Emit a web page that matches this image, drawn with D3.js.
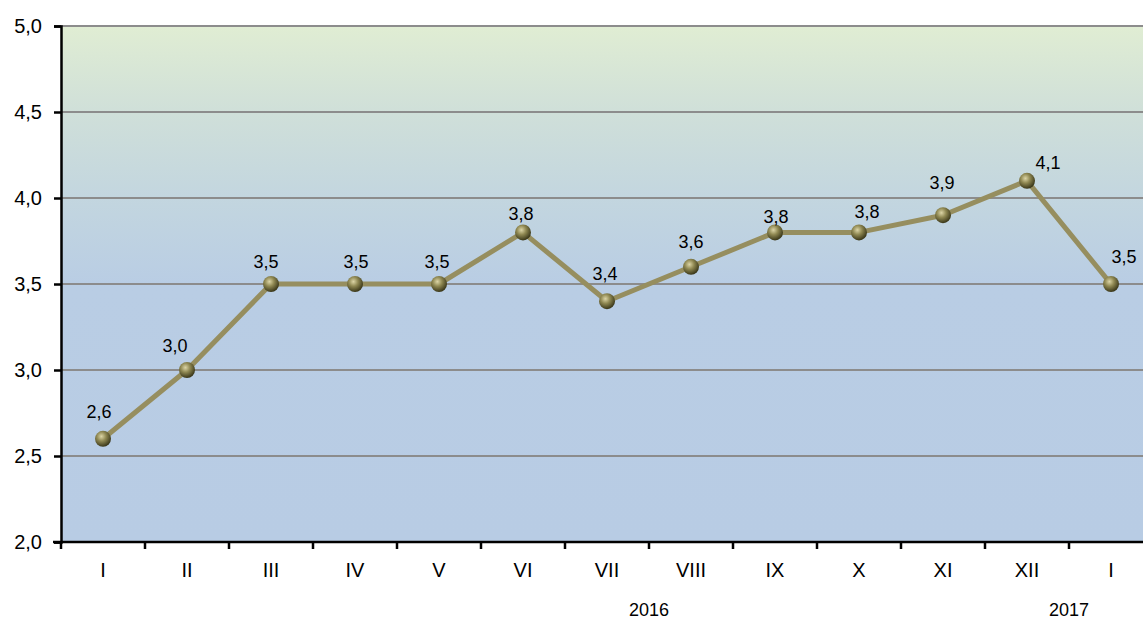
<!DOCTYPE html>
<html>
<head>
<meta charset="utf-8">
<script src="https://cdn.jsdelivr.net/npm/d3@7"></script>
<style>
  html, body { margin: 0; padding: 0; background: #fff; overflow: hidden; }
  svg { display: block; font-family: "Liberation Sans", Arial, sans-serif; }
</style>
</head>
<body>
<div id="chart"></div>
<script>
// data
var months = ['I', 'II', 'III', 'IV', 'V', 'VI', 'VII', 'VIII', 'IX', 'X', 'XI', 'XII', 'I'];
var monthKeys = months.map(function(m, i) { return i + ':' + m; });
var values = [2.6, 3.0, 3.5, 3.5, 3.5, 3.8, 3.4, 3.6, 3.8, 3.8, 3.9, 4.1, 3.5];
var valueLabels = ['2,6', '3,0', '3,5', '3,5', '3,5', '3,8', '3,4', '3,6', '3,8', '3,8', '3,9', '4,1', '3,5'];
var yTicks = [2.0, 2.5, 3.0, 3.5, 4.0, 4.5, 5.0];
var years = [{ label: '2016', from: 6, to: 7 }, { label: '2017', from: 12, to: 12 }];

// hand nudges of the data labels (like the ones dragged around in the original)
var labelNudge = [[-4, -27], [-12, -24], [-5, -22], [1, -22], [-2, -22], [-2, -19], [-2, -28],
                  [0, -25], [1, -16], [8, -21], [-1, -33], [21, -18], [13, -27]];

var width = 1143, height = 619;
var margin = { left: 61, top: 26, bottom: 77 };
var plotW = 84 * months.length; // right side is cut off by the frame, like the original

var svg = d3.select('#chart').append('svg')
  .attr('width', width)
  .attr('height', height);

var x = d3.scaleBand()
  .domain(monthKeys)
  .range([margin.left, margin.left + plotW]);

var y = d3.scaleLinear()
  .domain([2, 5])
  .range([height - margin.bottom, margin.top]);

var defs = svg.append('defs');

// background: green at the top fading to blue at 3,5
var bg = defs.append('linearGradient')
  .attr('id', 'bg')
  .attr('gradientUnits', 'userSpaceOnUse')
  .attr('x1', 0).attr('x2', 0)
  .attr('y1', y(5)).attr('y2', y(2));
bg.append('stop').attr('offset', 0).attr('stop-color', '#e0edd3');
bg.append('stop').attr('offset', 0.17).attr('stop-color', '#cfdfd9');
bg.append('stop').attr('offset', 0.33).attr('stop-color', '#c3d6df');
bg.append('stop').attr('offset', 0.5).attr('stop-color', '#b9cde4');
bg.append('stop').attr('offset', 1).attr('stop-color', '#b8cce4');

// marker ball
var ball = defs.append('radialGradient')
  .attr('id', 'ball')
  .attr('cx', '40%').attr('cy', '35%').attr('r', '65%');
ball.append('stop').attr('offset', 0).attr('stop-color', '#dcd5a6');
ball.append('stop').attr('offset', 0.45).attr('stop-color', '#8f8852');
ball.append('stop').attr('offset', 1).attr('stop-color', '#3a3719');

svg.append('rect')
  .attr('x', margin.left)
  .attr('y', y(5))
  .attr('width', plotW)
  .attr('height', y(2) - y(5))
  .attr('fill', 'url(#bg)');

// gridlines
svg.append('g')
  .selectAll('line')
  .data(yTicks.filter(function(d) { return d > 2; }))
  .join('line')
  .attr('x1', margin.left)
  .attr('x2', margin.left + plotW)
  .attr('y1', function(d) { return y(d); })
  .attr('y2', function(d) { return y(d); })
  .attr('stroke', '#8c8c8c')
  .attr('stroke-width', 2);

// y axis
var yAxis = svg.append('g')
  .attr('transform', 'translate(' + margin.left + ',0)')
  .call(d3.axisLeft(y)
    .tickValues(yTicks)
    .tickSize(7)
    .tickPadding(12)
    .tickFormat(function(d) { return d3.format('.1f')(d).replace('.', ','); }));
yAxis.attr('font-family', null).attr('font-size', null);
yAxis.select('.domain').attr('stroke', '#000').attr('stroke-width', 2.5);
yAxis.selectAll('.tick line').attr('stroke', '#000').attr('stroke-width', 2.5);
yAxis.selectAll('text').attr('fill', '#000').style('font-size', '20px');

// x axis, ticks sit on the category boundaries
var xAxis = svg.append('g')
  .attr('transform', 'translate(0,' + y(2) + ')');
xAxis.append('line')
  .attr('x1', margin.left - 8)
  .attr('x2', margin.left + plotW)
  .attr('stroke', '#000')
  .attr('stroke-width', 2.5);
xAxis.selectAll('line.tk')
  .data(d3.range(months.length + 1))
  .join('line')
  .attr('class', 'tk')
  .attr('x1', function(i) { return margin.left + i * x.step(); })
  .attr('x2', function(i) { return margin.left + i * x.step(); })
  .attr('y1', 0)
  .attr('y2', 7)
  .attr('stroke', '#000')
  .attr('stroke-width', 2.5);
xAxis.selectAll('text.mo')
  .data(monthKeys)
  .join('text')
  .attr('class', 'mo')
  .attr('x', function(d) { return x(d) + x.bandwidth() / 2; })
  .attr('y', 35)
  .attr('text-anchor', 'middle')
  .style('font-size', '20px')
  .text(function(d) { return d.split(':')[1]; });

// year labels under the months
svg.selectAll('text.year')
  .data(years)
  .join('text')
  .attr('class', 'year')
  .attr('x', function(d) {
    return d.from === d.to ? x(monthKeys[d.from])
      : (x(monthKeys[d.from]) + x(monthKeys[d.to]) + x.bandwidth()) / 2;
  })
  .attr('y', 616)
  .attr('text-anchor', 'middle')
  .style('font-size', '18px')
  .text(function(d) { return d.label; });

// the line
var line = d3.line()
  .x(function(d, i) { return x(monthKeys[i]) + x.bandwidth() / 2; })
  .y(function(d) { return y(d); });

svg.append('path')
  .datum(values)
  .attr('d', line)
  .attr('fill', 'none')
  .attr('stroke', '#968e5f')
  .attr('stroke-width', 5)
  .attr('stroke-linejoin', 'round');

svg.append('g')
  .selectAll('circle')
  .data(values)
  .join('circle')
  .attr('cx', function(d, i) { return x(monthKeys[i]) + x.bandwidth() / 2; })
  .attr('cy', function(d) { return y(d); })
  .attr('r', 8)
  .attr('fill', 'url(#ball)');

// data labels
svg.append('g')
  .selectAll('text')
  .data(values)
  .join('text')
  .attr('x', function(d, i) { return x(monthKeys[i]) + x.bandwidth() / 2 + labelNudge[i][0]; })
  .attr('y', function(d, i) { return y(d) + labelNudge[i][1]; })
  .attr('dy', '0.35em')
  .attr('text-anchor', 'middle')
  .style('font-size', '18px')
  .text(function(d, i) { return valueLabels[i]; });
</script>
</body>
</html>
